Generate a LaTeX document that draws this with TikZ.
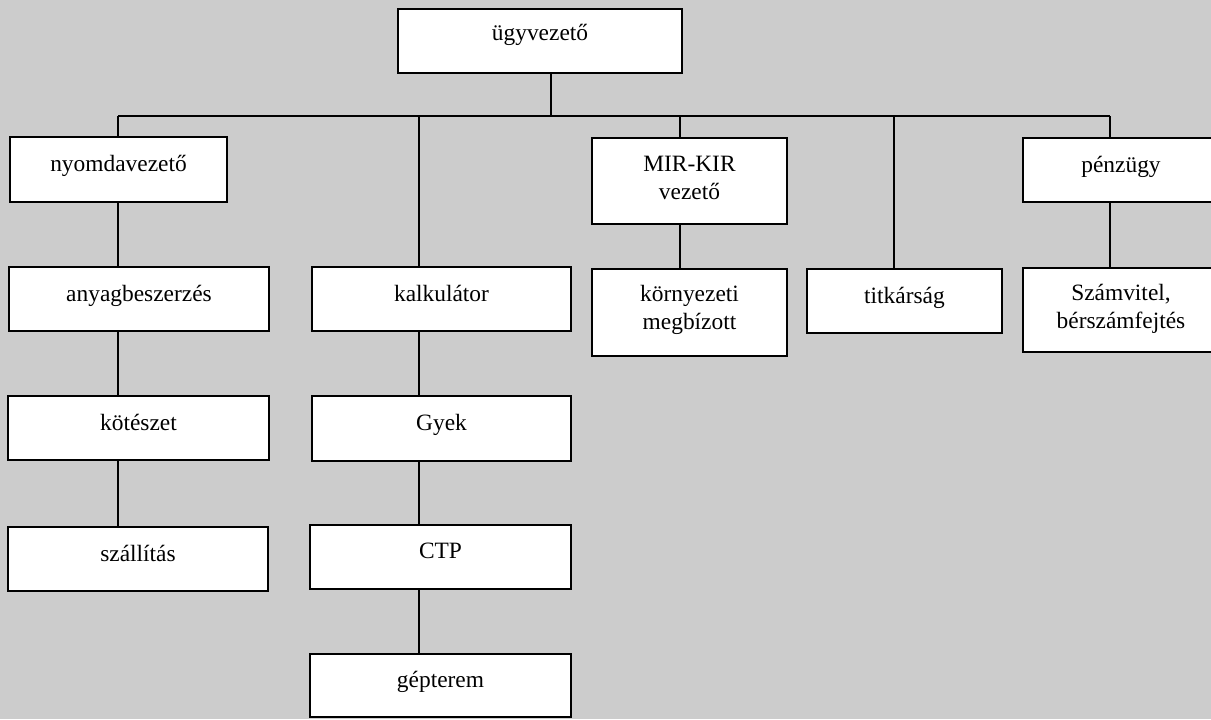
\documentclass[tikz,border=0pt]{standalone}
\usepackage{fontspec}
\setmainfont{Liberation Serif}
\definecolor{scangrey}{gray}{0.8}

\begin{document}
\begin{tikzpicture}[x=0.5pt, y=-0.5pt,
  unit/.style={draw, fill=white, line width=1.3pt, inner sep=2pt, align=center,
    text depth=6pt, font=\fontsize{11.7}{14}\selectfont},
  link/.style={line width=1.2pt}]
\clip (0,0) rectangle (1211,719);
\fill[scangrey] (0,0) rectangle (1211,719);

\node[unit, minimum width=142pt, minimum height=32pt, text depth=9pt] (ugy) at (540,41) {ügyvezető};

\node[unit, minimum width=108.5pt, minimum height=32.5pt] (nyom) at (118.5,169.5) {nyomdavezető};
\node[unit, minimum width=97.5pt, minimum height=43pt, text depth=3.5pt] (mir) at (689.5,181) {MIR-KIR\\vezető};
\node[unit, minimum width=98pt, minimum height=32pt] (penz) at (1121,170) {pénzügy};

\node[unit, minimum width=130pt, minimum height=32pt] (anyag) at (139,299) {anyagbeszerzés};
\node[unit, minimum width=129.5pt, minimum height=32pt] (kalk) at (441.5,299) {kalkulátor};
\node[unit, minimum width=97.5pt, minimum height=43.5pt, text depth=5pt] (korny) at (689.5,312.5) {környezeti\\megbízott};
\node[unit, minimum width=97.5pt, minimum height=32pt] (titk) at (904.5,301) {titkárság};
\node[unit, minimum width=98pt, minimum height=42pt, text depth=3.5pt] (szamv) at (1121,310) {Számvitel,\\bérszámfejtés};

\node[unit, minimum width=130.5pt, minimum height=32pt] (kotes) at (138.5,428) {kötészet};
\node[unit, minimum width=129.5pt, minimum height=32.5pt] (gyek) at (441.5,428.5) {Gyek};
\node[unit, minimum width=130pt, minimum height=32pt] (szall) at (138,559) {szállítás};
\node[unit, minimum width=130.5pt, minimum height=32pt] (ctp) at (440.5,557) {CTP};
\node[unit, minimum width=130.5pt, minimum height=31.5pt] (gep) at (440.5,685.5) {gépterem};

\coordinate (topbus) at (551,116);
\coordinate (busA) at (118,116);
\coordinate (busB) at (419,116);
\coordinate (busC) at (680,116);
\coordinate (busD) at (894,116);
\coordinate (busE) at (1110,116);

\draw[link] (ugy.south -| topbus) -- (topbus);
\draw[link] (busA) -- (busE);

\draw[link] (busA) -- (nyom.north -| busA);
\draw[link] (nyom.south -| busA) -- (anyag.north -| busA);
\draw[link] (anyag.south -| busA) -- (kotes.north -| busA);
\draw[link] (kotes.south -| busA) -- (szall.north -| busA);

\draw[link] (busB) -- (kalk.north -| busB);
\draw[link] (kalk.south -| busB) -- (gyek.north -| busB);
\draw[link] (gyek.south -| busB) -- (ctp.north -| busB);
\draw[link] (ctp.south -| busB) -- (gep.north -| busB);

\draw[link] (busC) -- (mir.north -| busC);
\draw[link] (mir.south -| busC) -- (korny.north -| busC);

\draw[link] (busD) -- (titk.north -| busD);

\draw[link] (busE) -- (penz.north -| busE);
\draw[link] (penz.south -| busE) -- (szamv.north -| busE);
\end{tikzpicture}
\end{document}
